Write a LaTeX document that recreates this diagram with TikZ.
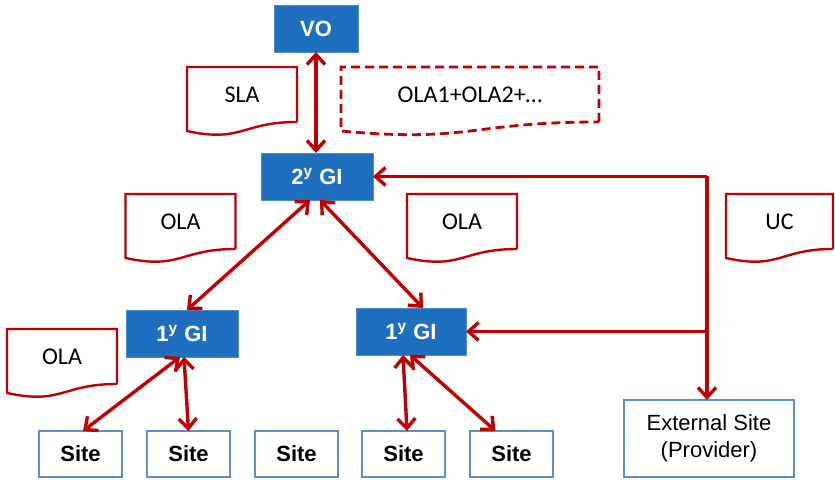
\documentclass[tikz,border=0pt]{standalone}
\usepackage{fontspec}
\setmainfont{Liberation Sans}
\newfontfamily\docfont{Carlito}
\usetikzlibrary{arrows.meta,positioning,calc}

\definecolor{giblue}{HTML}{1F6FBF}
\definecolor{siteblue}{HTML}{5B8FD0}
\definecolor{slared}{HTML}{C00000}

\tikzset{
        gibox/.style={fill=giblue,draw=giblue!80!white,text=white,font=\fontsize{11}{12}\selectfont\bfseries,
                minimum width=56pt,minimum height=23.5pt,inner sep=0pt,outer sep=0pt},
        sitebox/.style={draw=siteblue,line width=1pt,fill=white,font=\fontsize{11}{12}\selectfont\bfseries,
                minimum width=41.5pt,minimum height=23pt,inner sep=0pt,outer sep=0pt},
        doc/.style={minimum width=55pt,minimum height=27.5pt,inner sep=0pt,outer sep=0pt,
                font=\docfont\fontsize{12}{13}\selectfont,yshift=2pt},
        docline/.style={draw=slared,line width=1.2pt},
        link/.style={draw=slared,line width=1.7pt,{Straight Barb[length=5pt,width=9pt]}-{Straight Barb[length=5pt,width=9pt]}},
        feed/.style={draw=slared,line width=1.7pt,-{Straight Barb[length=5pt,width=9pt]}},
}

% wavy bottom of a document node
\newcommand\docframe[2][]{%
        \draw[docline,#1] (#2.south east) -- (#2.north east) -- (#2.north west)
                -- ([yshift=-4.5pt]#2.south west) .. controls ([yshift=-10.5pt]#2.south) and (#2.south) .. (#2.south east);}

\begin{document}
\begin{tikzpicture}[x=0.5pt,y=-0.5pt]
        \useasboundingbox (0,0) rectangle (835,480);

        % grid infrastructures
        \node[gibox,minimum width=42pt] (vo) at (316,28.5) {VO};
        \node[gibox] (gi2) at (317,176.5) {2\textsuperscript{y} GI};
        \node[gibox] (gi1a) at (182,333.5) {1\textsuperscript{y} GI};
        \node[gibox,minimum width=55pt] (gi1b) at (411,331.5) {1\textsuperscript{y} GI};

        % sites
        \foreach \x/\n in {80.5/1,188.5/2,296.5/3,403.5/4,511.5/5}{
                \node[sitebox] (site\n) at (\x,454) {Site};
        }
        \node[sitebox,font=\fontsize{11}{13.5}\selectfont,minimum width=85pt,minimum height=38.5pt,align=center]
                (ext) at (709,438.5) {External Site\\(Provider)};

        % agreements
        \node[doc] (sla) at (242,98.5) {SLA};
        \node[doc,minimum width=129pt] (olasum) at (470,98.5) {OLA1+OLA2+\dots};
        \node[doc] (olaa) at (180.5,225.5) {OLA};
        \node[doc] (olab) at (462,225.5) {OLA};
        \node[doc] (olac) at (62,360.5) {OLA};
        \node[doc,minimum width=53.5pt] (uc) at (779.5,225.5) {UC};
        \docframe{sla}
        \docframe[line width=1.4pt,dash pattern=on 4.5pt off 2.5pt]{olasum}
        \docframe{olaa}
        \docframe{olab}
        \docframe{olac}
        \docframe{uc}

        % links
        \draw[link] (vo.south) -- (vo.south |- gi2.north);
        \draw[link] ([xshift=-3.5pt]gi2.south) -- ([xshift=2.5pt]gi1a.north);
        \draw[link] ([xshift=1.5pt]gi2.south) -- ([xshift=6pt]gi1b.north);
        \draw[link] ([xshift=-1pt]gi1a.south) -- ([xshift=1.25pt]site1.north);
        \draw[link] ([xshift=1pt]gi1a.south) -- (site2.north);
        \draw[link] ([xshift=-4pt]gi1b.south) -- ([xshift=1.75pt]site4.north);
        \draw[link] ([xshift=-0.5pt]gi1b.south) -- ([xshift=-8pt]site5.north);

        \coordinate (jt) at (707,176.5);
        \draw[feed] (jt) -- (gi2.east);
        \draw[feed] (jt) -- (jt |- ext.north);
        \draw[feed] (jt |- gi1b) -- (gi1b.east);
\end{tikzpicture}
\end{document}
